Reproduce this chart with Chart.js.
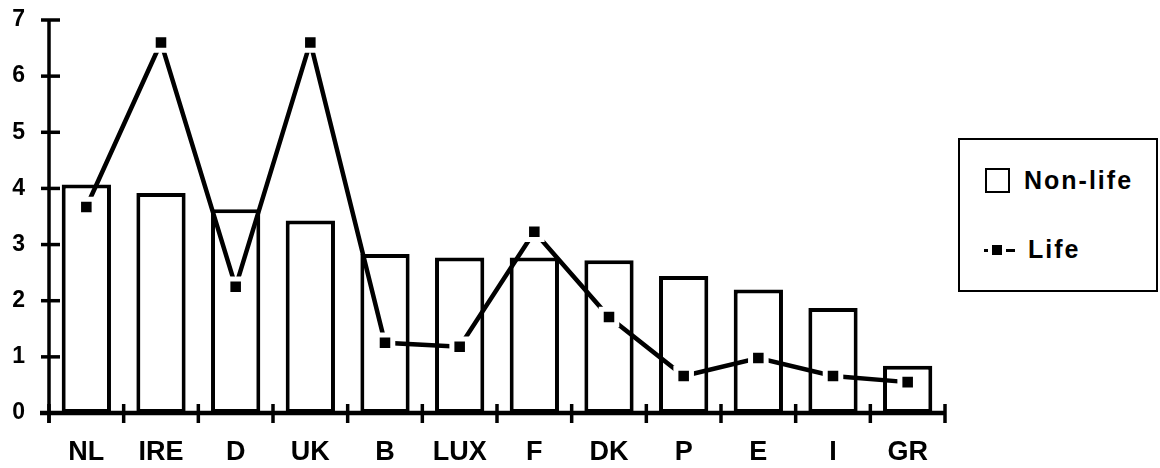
<!DOCTYPE html>
<html>
<head>
<meta charset="utf-8">
<script src="https://cdn.jsdelivr.net/npm/chart.js@4/dist/chart.umd.min.js"></script>
<style>
  html, body { margin: 0; padding: 0; background: #fff; }
  #wrap { position: relative; width: 1160px; height: 468px; }
  #c { position: absolute; left: 0; top: 0; }
  #legend {
    position: absolute; left: 958px; top: 138px; width: 196px; height: 150px;
    border: 2px solid #000; background: #fff; font-family: "Liberation Sans", Arial, sans-serif;
    color: #000;
  }
  .row { position: absolute; left: 0; display: flex; align-items: center; }
  .txt { font-size: 25px; font-weight: bold; letter-spacing: 2px; }
  .sq { width: 21px; height: 21px; border: 2.5px solid #000; margin-right: 14px; }
  .sym { position: relative; width: 38px; height: 12px; margin-right: 6px; }
</style>
</head>
<body>
<div id="wrap">
  <canvas id="c" width="1160" height="468"></canvas>
  <div id="legend">
    <div class="row" style="left:25px; top:26px;"><div class="sq"></div><span class="txt">Non-life</span></div>
    <div class="row" style="left:24px; top:95px;">
      <div class="sym">
        <div style="position:absolute;left:0;top:5px;width:4px;height:3px;background:#000"></div>
        <div style="position:absolute;left:8px;top:1px;width:10px;height:10px;background:#000"></div>
        <div style="position:absolute;left:22px;top:5px;width:9px;height:3px;background:#000"></div>
      </div>
      <span class="txt">Life</span>
    </div>
  </div>
</div>
<script>
const categories = ["NL", "IRE", "D", "UK", "B", "LUX", "F", "DK", "P", "E", "I", "GR"];
const nonLife = [4.07, 3.92, 3.63, 3.43, 2.83, 2.77, 2.77, 2.72, 2.44, 2.20, 1.87, 0.84];
const life = [3.67, 6.60, 2.25, 6.60, 1.25, 1.18, 3.23, 1.71, 0.66, 0.98, 0.66, 0.55];
const yTicks = [0, 1, 2, 3, 4, 5, 6, 7];

const axisPlugin = {
  id: 'axisPlugin',
  afterDatasetsDraw(chart) {
    const { ctx, chartArea: { left, right, top, bottom }, scales: { x, y } } = chart;
    ctx.save();
    ctx.strokeStyle = '#000';
    ctx.lineCap = 'butt';
    const line = (x1, y1, x2, y2) => { ctx.beginPath(); ctx.moveTo(x1, y1); ctx.lineTo(x2, y2); ctx.stroke(); };
    // y axis
    ctx.lineWidth = 3.5;
    line(left, top - 1, left, bottom + 10);
    // x axis
    ctx.lineWidth = 4.5;
    line(left - 9, bottom, right, bottom);
    // y ticks
    ctx.lineWidth = 3.5;
    yTicks.forEach(v => { const py = y.getPixelForValue(v); line(left - 8, py, left + 11, py); });
    // x ticks at category boundaries
    for (let i = 0; i <= categories.length; i++) {
      const px = x.getPixelForValue(i - 0.5);
      line(px, bottom - 9, px, bottom + 10);
    }
    ctx.restore();
  }
};

new Chart(document.getElementById('c'), {
  data: {
    labels: categories,
    datasets: [
      {
        type: 'line', label: 'Life', data: life, order: 0,
        borderColor: '#000', borderWidth: 4.5, tension: 0,
        pointStyle: 'rect', pointRadius: 11, pointBackgroundColor: '#000',
        pointBorderColor: '#fff', pointBorderWidth: 5
      },
      {
        type: 'bar', label: 'Non-life', data: nonLife, order: 1,
        backgroundColor: '#fff', borderColor: '#000', borderWidth: 4, borderSkipped: false,
        categoryPercentage: 1, barPercentage: 0.66
      }
    ]
  },
  plugins: [axisPlugin],
  options: {
    responsive: false, animation: false, devicePixelRatio: 1,
    layout: { padding: { top: 20, right: 215, left: 0, bottom: 0 } },
    plugins: { legend: { display: false }, tooltip: { enabled: false } },
    scales: {
      x: {
        offset: true,
        grid: { display: false, drawTicks: false },
        border: { display: false },
        afterFit: s => { s.height = 55; s.paddingLeft = 0; s.paddingRight = 0; },
        ticks: { color: '#000', padding: 23, font: { family: '"Liberation Sans Narrow", "Liberation Sans", Arial', size: 27, weight: 'bold' } }
      },
      y: {
        min: 0, max: 7,
        grid: { display: false, drawTicks: false },
        border: { display: false },
        afterFit: s => { s.width = 49; s.paddingTop = 0; s.paddingBottom = 0; },
        afterBuildTicks: s => { s.ticks = yTicks.map(v => ({ value: v })); },
        ticks: { color: '#000', padding: 24, font: { family: '"Liberation Sans", Arial', size: 23, weight: 'bold' } }
      }
    }
  }
});
</script>
</body>
</html>
